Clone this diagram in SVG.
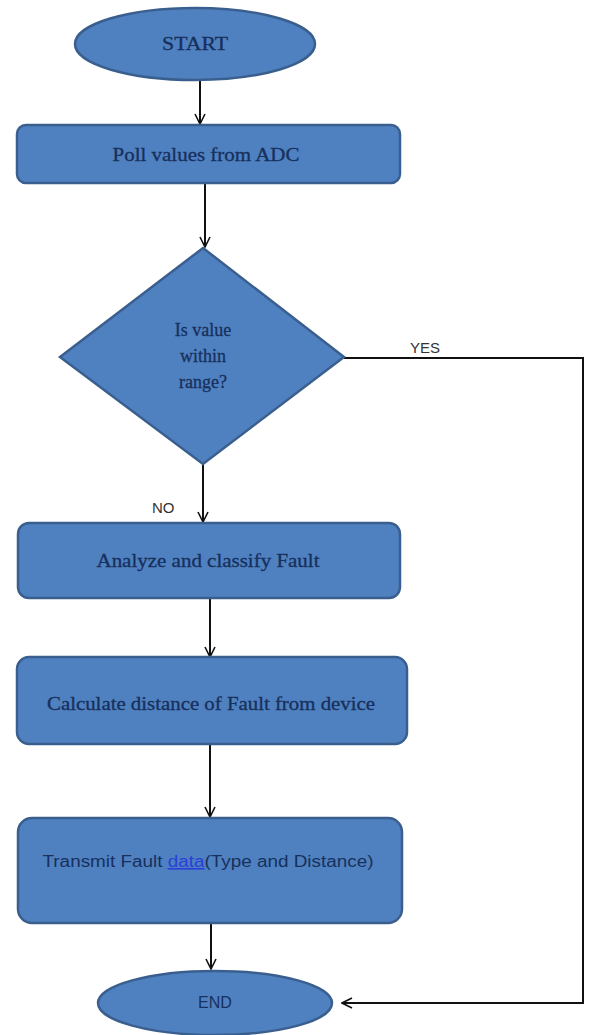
<svg xmlns="http://www.w3.org/2000/svg" width="593" height="1035" viewBox="0 0 593 1035">
<defs>
<marker id="arr" viewBox="0 0 12 12" refX="11" refY="6" markerWidth="12" markerHeight="12" markerUnits="userSpaceOnUse" orient="auto">
<path d="M1,1 L11,6 L1,11" fill="none" stroke="#111" stroke-width="1.6"/>
</marker>
<style>
.shape{fill:#4f81c1;stroke:#3a5f8e;stroke-width:2.5}
.t{font-family:"Liberation Serif","Times New Roman",serif;font-size:18px;fill:#17305c;stroke:#17305c;stroke-width:0.3;text-anchor:middle}
.s{font-family:"Liberation Sans",Arial,sans-serif;font-size:16px;fill:#17305c;text-anchor:middle}
.lbl{font-family:"Liberation Sans",Arial,sans-serif;font-size:15px;fill:#333}
.c{fill:none;stroke:#111;stroke-width:2}
</style>
</defs>
<rect width="593" height="1035" fill="#fff"/>
<g id="connectors">
<line class="c" x1="200" y1="80" x2="200" y2="124" marker-end="url(#arr)"/>
<line class="c" x1="205" y1="184" x2="205" y2="247" marker-end="url(#arr)"/>
<line class="c" x1="203" y1="464" x2="203" y2="522" marker-end="url(#arr)"/>
<line class="c" x1="210" y1="598" x2="210" y2="657" marker-end="url(#arr)"/>
<line class="c" x1="210" y1="744" x2="210" y2="817" marker-end="url(#arr)"/>
<line class="c" x1="211" y1="923" x2="211" y2="969" marker-end="url(#arr)"/>
<polyline class="c" points="344,358 583,358 583,1003 342,1003" marker-end="url(#arr)"/>
<text class="lbl" x="410" y="353">YES</text>
<text class="lbl" x="152" y="513">NO</text>
</g>
<g id="start">
<ellipse class="shape" cx="195" cy="44" rx="120" ry="36"/>
<text class="t" x="195" y="50" textLength="66" lengthAdjust="spacingAndGlyphs">START</text>
</g>
<g id="poll">
<rect class="shape" x="17" y="125" width="383" height="58" rx="9"/>
<text class="t" x="206" y="161" textLength="187" lengthAdjust="spacingAndGlyphs">Poll values from ADC</text>
</g>
<g id="decision">
<polygon class="shape" points="203,248 344,357 203,464 60,357"/>
<text class="t" x="203" y="336">Is value</text>
<text class="t" x="203" y="362">within</text>
<text class="t" x="203" y="388">range?</text>
</g>
<g id="analyze">
<rect class="shape" x="18" y="523" width="382" height="75" rx="11"/>
<text class="t" x="208" y="567" textLength="223" lengthAdjust="spacingAndGlyphs">Analyze and classify Fault</text>
</g>
<g id="calculate">
<rect class="shape" x="17" y="657" width="390" height="87" rx="12"/>
<text class="t" x="211" y="710" textLength="328" lengthAdjust="spacingAndGlyphs">Calculate distance of Fault from device</text>
</g>
<g id="transmit">
<rect class="shape" x="18" y="818" width="384" height="105" rx="14"/>
<text class="s" x="208" y="867" textLength="331" lengthAdjust="spacingAndGlyphs">Transmit Fault <tspan fill="#2a3fd6" text-decoration="underline">data</tspan>(Type and Distance)</text>
</g>
<g id="end">
<ellipse class="shape" cx="215" cy="1003" rx="117" ry="32"/>
<text class="s" x="215" y="1008" font-size="14">END</text>
</g>
</svg>
